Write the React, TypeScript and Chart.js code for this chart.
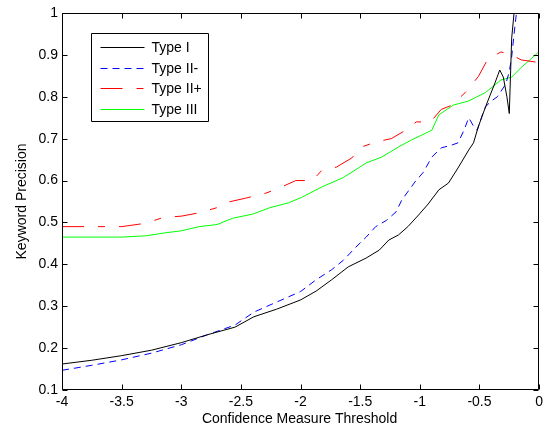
import React, { useEffect, useRef } from "react";
import { Chart, registerables } from "chart.js";

Chart.register(...registerables);

// ---- data ----
const seriesLabels = ["Type I", "Type II-", "Type II+", "Type III"];
const xTitle = "Confidence Measure Threshold";
const yTitle = "Keyword Precision";
const xTicks = [-4, -3.5, -3, -2.5, -2, -1.5, -1, -0.5, 0];
const yTicks = [0.1, 0.2, 0.3, 0.4, 0.5, 0.6, 0.7, 0.8, 0.9, 1];

const typeIX = [-4, -3.75, -3.5, -3.25, -3.0, -2.78, -2.55, -2.39, -2.2, -2.0, -1.87, -1.74, -1.6, -1.45, -1.34, -1.26, -1.18, -1.1, -1.01, -0.93, -0.84, -0.76, -0.68, -0.59, -0.55, -0.51, -0.47, -0.43, -0.37, -0.33, -0.3, -0.27, -0.25, -0.23, -0.21, -0.18];
const typeIY = [0.162, 0.171, 0.182, 0.195, 0.213, 0.232, 0.25, 0.275, 0.293, 0.315, 0.336, 0.363, 0.394, 0.415, 0.434, 0.458, 0.47, 0.49, 0.518, 0.544, 0.578, 0.594, 0.63, 0.673, 0.69, 0.728, 0.76, 0.79, 0.833, 0.864, 0.847, 0.8, 0.76, 0.94, 1.0, 1.12];

const typeIIminusX = [-4, -3.75, -3.5, -3.25, -3.0, -2.78, -2.55, -2.39, -2.2, -2.0, -1.87, -1.74, -1.64, -1.54, -1.45, -1.37, -1.28, -1.2, -1.15, -1.04, -0.97, -0.9, -0.82, -0.73, -0.68, -0.63, -0.59, -0.55, -0.52, -0.49, -0.45, -0.4, -0.35, -0.28, -0.25, -0.23, -0.21, -0.19, -0.17];
const typeIIminusY = [0.147, 0.159, 0.172, 0.188, 0.208, 0.232, 0.255, 0.286, 0.31, 0.335, 0.363, 0.387, 0.41, 0.44, 0.465, 0.49, 0.505, 0.525, 0.554, 0.597, 0.62, 0.656, 0.678, 0.685, 0.69, 0.72, 0.75, 0.73, 0.72, 0.745, 0.776, 0.79, 0.8, 0.83, 0.86, 0.895, 0.95, 1.0, 1.1];

const typeIIplusX = [-4, -3.5, -3.3, -3.15, -3.0, -2.85, -2.68, -2.6, -2.46, -2.29, -2.18, -2.04, -1.9, -1.82, -1.7, -1.57, -1.49, -1.37, -1.24, -1.12, -1.03, -0.91, -0.82, -0.73, -0.62, -0.51, -0.43, -0.32, -0.23, -0.15, -0.03];
const typeIIplusY = [0.49, 0.49, 0.498, 0.512, 0.515, 0.523, 0.537, 0.549, 0.558, 0.57, 0.582, 0.6, 0.6, 0.625, 0.632, 0.654, 0.68, 0.692, 0.7, 0.72, 0.74, 0.74, 0.77, 0.78, 0.81, 0.848, 0.89, 0.907, 0.9, 0.888, 0.883];

const typeIIIX = [-4, -3.5, -3.3, -3.14, -3.0, -2.85, -2.7, -2.57, -2.4, -2.26, -2.1, -1.99, -1.82, -1.65, -1.57, -1.45, -1.32, -1.18, -1.07, -0.9, -0.84, -0.72, -0.59, -0.45, -0.32, -0.23, -0.15, -0.07, -0.01];
const typeIIIY = [0.465, 0.465, 0.468, 0.475, 0.48, 0.49, 0.495, 0.51, 0.52, 0.535, 0.547, 0.56, 0.585, 0.606, 0.62, 0.642, 0.656, 0.68, 0.697, 0.72, 0.757, 0.78, 0.79, 0.81, 0.84, 0.847, 0.87, 0.89, 0.905];

const seriesColors = ["#000000", "#0000ff", "#ff0000", "#00ff00"];
const seriesDashes: number[][] = [[], [7, 5], [22, 14, 7, 14], []];

const FONT = "'Liberation Sans', Arial, Helvetica, sans-serif";

function toPoints(xs: number[], ys: number[]) {
  return xs.map((x, i) => ({ x, y: ys[i] }));
}

const framePlugin = {
  id: "matlabFrame",
  afterDatasetsDraw(chart: any) {
    const ctx = chart.ctx as CanvasRenderingContext2D;
    const ca = chart.chartArea;
    const xs = chart.scales.x;
    const ys = chart.scales.y;
    const L = Math.round(ca.left) + 0.5;
    const R = Math.round(ca.right) - 0.5;
    const T = Math.round(ca.top) + 0.5;
    const B = Math.round(ca.bottom) - 0.5;
    ctx.save();
    ctx.strokeStyle = "#000";
    ctx.lineWidth = 1;
    ctx.setLineDash([]);
    ctx.beginPath();
    ctx.rect(L, T, R - L, B - T);
    ctx.stroke();
    const tl = 5;
    ctx.beginPath();
    xTicks.forEach((v) => {
      const px = Math.round(xs.getPixelForValue(v)) + 0.5;
      ctx.moveTo(px, B);
      ctx.lineTo(px, B - tl);
      ctx.moveTo(px, T);
      ctx.lineTo(px, T + tl);
    });
    yTicks.forEach((v) => {
      const py = Math.round(ys.getPixelForValue(v)) + 0.5;
      ctx.moveTo(L, py);
      ctx.lineTo(L + tl, py);
      ctx.moveTo(R, py);
      ctx.lineTo(R - tl, py);
    });
    ctx.stroke();

    // legend box
    const lx = Math.round(ca.left + 29) + 0.5;
    const ly = Math.round(ca.top + 20) + 0.5;
    const lw = 117;
    const lh = 88;
    ctx.fillStyle = "#fff";
    ctx.fillRect(lx, ly, lw, lh);
    ctx.strokeStyle = "#000";
    ctx.beginPath();
    ctx.rect(lx, ly, lw, lh);
    ctx.stroke();
    ctx.font = `14px ${FONT}`;
    ctx.textBaseline = "middle";
    ctx.textAlign = "left";
    chart.data.datasets.forEach((ds: any, i: number) => {
      const rowY = Math.round(ly + 13.5 + i * 20.6) + 0.5;
      ctx.strokeStyle = ds.borderColor;
      ctx.setLineDash(ds.borderDash || []);
      ctx.beginPath();
      ctx.moveTo(lx + 9, rowY);
      ctx.lineTo(lx + 53, rowY);
      ctx.stroke();
      ctx.setLineDash([]);
      ctx.fillStyle = "#000";
      ctx.fillText(ds.label, lx + 60, rowY + 1);
    });

    // axis titles
    ctx.fillStyle = "#000";
    ctx.font = `14px ${FONT}`;
    ctx.textAlign = "center";
    ctx.textBaseline = "middle";
    ctx.fillText(xTitle, (ca.left + ca.right) / 2 - 1, 419);
    ctx.save();
    ctx.translate(22, (ca.top + ca.bottom) / 2);
    ctx.rotate(-Math.PI / 2);
    ctx.fillText(yTitle, 0, 0);
    ctx.restore();
    ctx.restore();
  },
};

export default function App() {
  const canvasRef = useRef<HTMLCanvasElement | null>(null);

  useEffect(() => {
    document.body.style.margin = "0";
    const canvas = canvasRef.current;
    if (!canvas) return;
    const xsArr = [typeIX, typeIIminusX, typeIIplusX, typeIIIX];
    const ysArr = [typeIY, typeIIminusY, typeIIplusY, typeIIIY];
    const chart = new Chart(canvas, {
      type: "line",
      data: {
        datasets: seriesLabels.map((label, i) => ({
          label,
          data: toPoints(xsArr[i], ysArr[i]),
          borderColor: seriesColors[i],
          backgroundColor: seriesColors[i],
          borderWidth: 1,
          borderDash: seriesDashes[i],
          pointRadius: 0,
          tension: 0,
          fill: false,
        })),
      },
      options: {
        responsive: false,
        animation: false,
        devicePixelRatio: 1,
        layout: { padding: { left: 0, top: 13, right: 6, bottom: 0 }, autoPadding: false },
        plugins: { legend: { display: false }, tooltip: { enabled: false }, title: { display: false } },
        scales: {
          x: {
            type: "linear",
            min: -4,
            max: 0,
            afterBuildTicks: (s: any) => {
              s.ticks = xTicks.map((v) => ({ value: v }));
            },
            afterFit: (s: any) => {
              s.height = 38;
            },
            grid: { display: false, drawTicks: false },
            border: { display: false },
            ticks: {
              color: "#000",
              padding: 4,
              maxRotation: 0,
              autoSkip: false,
              font: { family: FONT, size: 14 },
              callback: (v: any) => String(Math.round(Number(v) * 10) / 10),
            },
          },
          y: {
            type: "linear",
            min: 0.1,
            max: 1,
            afterBuildTicks: (s: any) => {
              s.ticks = yTicks.map((v) => ({ value: v }));
            },
            afterFit: (s: any) => {
              s.width = 62;
            },
            grid: { display: false, drawTicks: false },
            border: { display: false },
            ticks: {
              color: "#000",
              padding: 4,
              autoSkip: false,
              font: { family: FONT, size: 14 },
              callback: (v: any) => String(Math.round(Number(v) * 10) / 10),
            },
          },
        },
      },
      plugins: [framePlugin],
    } as any);
    return () => chart.destroy();
  }, []);

  return (
    <div style={{ position: "fixed", left: 0, top: 0, width: 547, height: 428, background: "#fff" }}>
      <canvas ref={canvasRef} width={547} height={428} style={{ display: "block" }} />
    </div>
  );
}
